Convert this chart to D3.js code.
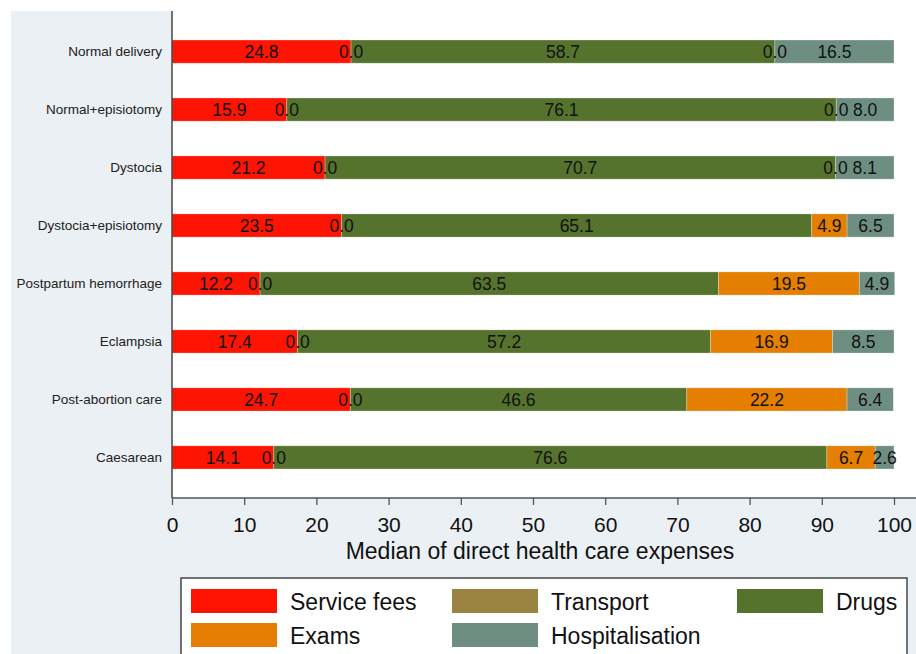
<!DOCTYPE html>
<html>
<head>
<meta charset="utf-8">
<script src="https://cdn.jsdelivr.net/npm/d3@7"></script>
<style>
  body { margin: 0; background: #fff; }
  svg { display: block; font-family: "Liberation Sans", Arial, sans-serif; }
</style>
</head>
<body>
<svg id="chart" width="916" height="654"></svg>
<script>
// categories top to bottom
var categories = ["Normal delivery", "Normal+episiotomy", "Dystocia", "Dystocia+episiotomy",
    "Postpartum hemorrhage", "Eclampsia", "Post-abortion care", "Caesarean"]

// series in stacking order
var seriesNames = ["Service fees", "Transport", "Drugs", "Exams", "Hospitalisation"]
var serviceFees = [24.8, 15.9, 21.2, 23.5, 12.2, 17.4, 24.7, 14.1]
var transport = [0.0, 0.0, 0.0, 0.0, 0.0, 0.0, 0.0, 0.0]
var drugs = [58.7, 76.1, 70.7, 65.1, 63.5, 57.2, 46.6, 76.6]
var exams = [0.0, 0.0, 0.0, 4.9, 19.5, 16.9, 22.2, 6.7]
var hospitalisation = [16.5, 8.0, 8.1, 6.5, 4.9, 8.5, 6.4, 2.6]

var xTicks = [0, 10, 20, 30, 40, 50, 60, 70, 80, 90, 100]

var colors = ["#fd1402", "#9b8441", "#55732d", "#e47f01", "#6d8e81"]

var W = 916, H = 654
var plotLeft = 172, plotRight = 894, plotTop = 11, plotBottom = 498

var svg = d3.select("#chart")

// outer graph background and white plot region
svg.append("rect").attr("x", 11).attr("y", 11).attr("width", W - 11).attr("height", H - 11)
    .attr("fill", "#eaf0f3")
svg.append("rect").attr("x", plotLeft).attr("y", 0).attr("width", W - plotLeft).attr("height", plotBottom)
    .attr("fill", "#fff")

var rows = categories.map(function(c, i) {
    return {
        category: c,
        "Service fees": serviceFees[i],
        "Transport": transport[i],
        "Drugs": drugs[i],
        "Exams": exams[i],
        "Hospitalisation": hospitalisation[i]
    }
})

var x = d3.scaleLinear().domain([0, 100]).range([plotLeft, plotRight])
var y = d3.scaleBand().domain(categories).range([plotTop, plotBottom]).paddingInner(0.6).paddingOuter(0.5)
var color = d3.scaleOrdinal().domain(seriesNames).range(colors)

var stacked = d3.stack().keys(seriesNames)(rows)

var layers = svg.append("g").selectAll("g")
    .data(stacked)
    .join("g")
    .attr("fill", function(d) { return color(d.key) })

layers.selectAll("rect")
    .data(function(d) { return d })
    .join("rect")
    .attr("x", function(d) { return x(d[0]) })
    .attr("y", function(d) { return y(d.data.category) })
    .attr("width", function(d) { return x(d[1]) - x(d[0]) })
    .attr("height", y.bandwidth())
    .attr("stroke", "#ffffff")
    .attr("stroke-opacity", 0.35)
    .attr("stroke-width", 0.8)

// value labels, one per segment
var labels = svg.append("g")
stacked.forEach(function(layer) {
    labels.append("g").selectAll("text")
        .data(layer)
        .join("text")
        .attr("x", function(d) { return (x(d[0]) + x(d[1])) / 2 })
        .attr("y", function(d) { return y(d.data.category) + y.bandwidth() / 2 })
        .attr("dy", "0.38em")
        .attr("text-anchor", "middle")
        .attr("font-size", "17.5px")
        .attr("fill", "#111")
        .text(function(d) { return d3.format(".1f")(d[1] - d[0]) })
})

// category axis
var yAxis = svg.append("g")
yAxis.selectAll("text")
    .data(categories)
    .join("text")
    .attr("x", plotLeft - 10)
    .attr("y", function(d) { return y(d) + y.bandwidth() / 2 })
    .attr("dy", "0.36em")
    .attr("text-anchor", "end")
    .attr("font-size", "13.5px")
    .attr("fill", "#222")
    .text(function(d) { return d })
yAxis.append("line")
    .attr("x1", plotLeft).attr("x2", plotLeft).attr("y1", plotTop).attr("y2", plotBottom)
    .attr("stroke", "#444").attr("stroke-width", 1.5)

// value axis
var xAxis = svg.append("g")
    .attr("transform", "translate(0," + plotBottom + ")")
    .call(d3.axisBottom(x).tickValues(xTicks).tickSize(7).tickPadding(12).tickSizeOuter(0))
xAxis.select(".domain").attr("stroke", "#555").attr("stroke-width", 1.5)
    .attr("d", "M" + plotLeft + ",0H" + W)
xAxis.selectAll(".tick line").attr("stroke", "#555").attr("stroke-width", 1.3)
xAxis.selectAll(".tick text")
    .attr("font-size", "21px")
    .attr("font-family", "'Liberation Sans', Arial, sans-serif")
    .attr("fill", "#111")

svg.append("text")
    .attr("x", 540)
    .attr("y", 559)
    .attr("text-anchor", "middle")
    .attr("font-size", "23px")
    .attr("fill", "#111")
    .text("Median of direct health care expenses")

// legend
var legend = svg.append("g")
legend.append("rect")
    .attr("x", 181).attr("y", 578).attr("width", 726).attr("height", 90)
    .attr("fill", "#fff").attr("stroke", "#444").attr("stroke-width", 1.5)

var legendX = [191, 452, 737]
var legendY = [589, 623]
var legendItems = legend.selectAll("g")
    .data(seriesNames)
    .join("g")
    .attr("transform", function(d, i) {
        return "translate(" + legendX[i % 3] + "," + legendY[Math.floor(i / 3)] + ")"
    })
legendItems.append("rect")
    .attr("width", 86).attr("height", 24)
    .attr("fill", function(d) { return color(d) })
legendItems.append("text")
    .attr("x", 99)
    .attr("y", 21)
    .attr("font-size", "23px")
    .attr("fill", "#111")
    .text(function(d) { return d })
</script>
</body>
</html>
